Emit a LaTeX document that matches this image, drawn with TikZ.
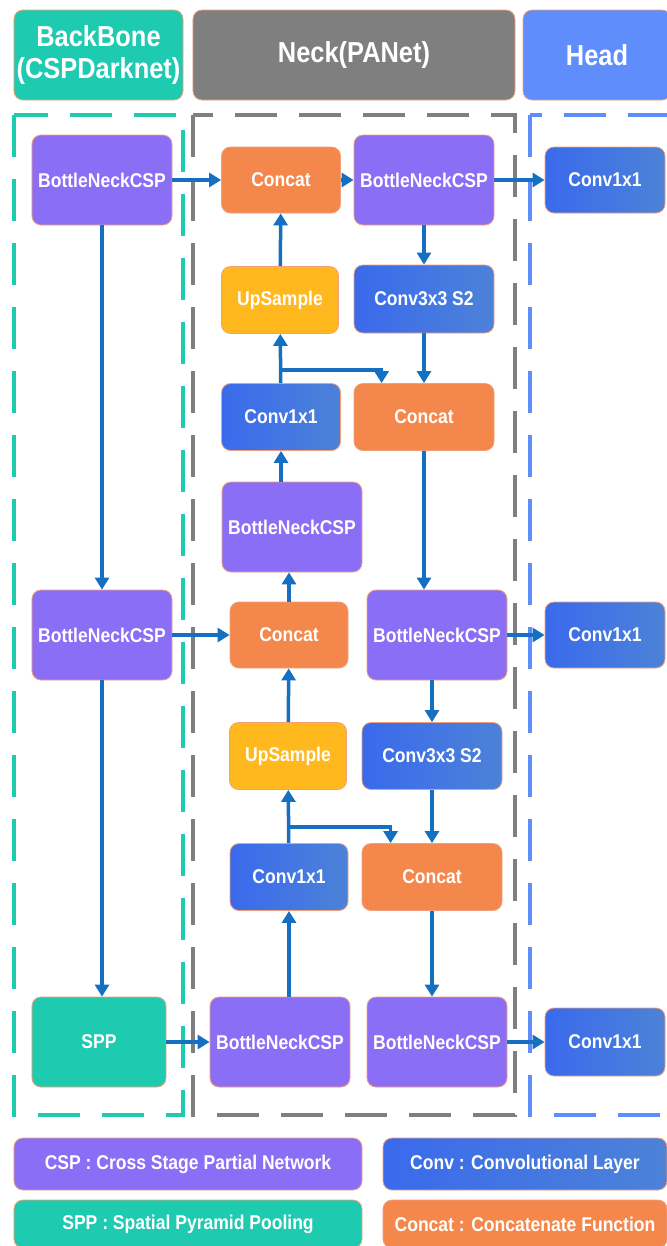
\documentclass[tikz,border=0pt]{standalone}
\usepackage{fontspec}
\setmainfont{Liberation Sans}[FakeStretch=0.88]
\usetikzlibrary{arrows.meta,positioning,calc}
\definecolor{bbteal}{RGB}{30,202,176}
\definecolor{neckgray}{RGB}{127,127,127}
\definecolor{headblue}{RGB}{95,141,252}
\definecolor{cspvio}{RGB}{139,110,246}
\definecolor{catorg}{RGB}{244,135,75}
\definecolor{upyel}{RGB}{255,184,30}
\definecolor{convL}{RGB}{58,106,236}
\definecolor{convR}{RGB}{76,130,216}
\definecolor{arrblue}{RGB}{21,112,194}
\definecolor{edgeorg}{RGB}{243,160,122}
\tikzset{
  blk/.style={rounded corners=9bp, draw=edgeorg, line width=0.8bp, text=white,
    font=\bfseries\fontsize{20}{22}\selectfont, inner sep=0pt, align=center},
  cspbox/.style={blk, fill=cspvio, minimum width=140bp, minimum height=90bp},
  catbox/.style={blk, fill=catorg, minimum width=118bp, minimum height=66bp},
  upbox/.style={blk, fill=upyel, minimum width=117bp, minimum height=67bp},
  convbox/.style={blk, left color=convL, right color=convR, minimum width=118bp, minimum height=67bp},
  hdr/.style={blk, font=\bfseries\fontsize{29}{32}\selectfont, minimum height=90bp},
  leg/.style={blk, minimum height=52bp},
  flow/.style={draw=arrblue, line width=3.5bp, -{Triangle[length=12bp,width=14bp]}},
  frame/.style={line width=4bp, dash pattern=on 42bp off 22bp},
}
\begin{document}
\begin{tikzpicture}[x=1bp, y=-1bp]
  \useasboundingbox (0,0) rectangle (667,1246);
  \clip (0,0) rectangle (667,1246);
  % headers
  \node[hdr, fill=bbteal, minimum width=169bp] (hbb) at (98.5,55) {BackBone\\(CSPDarknet)};
  \node[hdr, fill=neckgray, minimum width=322bp] (hnk) at (354,55) {Neck(PANet)};
  \node[hdr, fill=headblue, minimum width=148bp] (hhd) at (597,55) {Head};
  % dashed frames
  \draw[frame, bbteal] (14,115) rectangle (183,1115);
  \draw[frame, neckgray] (193,115) rectangle (515,1115);
  \draw[frame, headblue] (530,115) rectangle (720,1115);
  % backbone
  \node[cspbox] (bb1) at (102,180) {BottleNeckCSP};
  \node[cspbox] (bb2) at (102,635) {BottleNeckCSP};
  \node[blk, fill=bbteal, minimum width=134bp, minimum height=90bp] (spp) at (99,1042) {SPP};
  % neck, left column
  \node[catbox, minimum width=119bp] (cat1) at (281,180) {Concat};
  \node[upbox] (up1) at (280,300) {UpSample};
  \node[convbox, minimum width=119bp] (cv1) at (281,417) {Conv1x1};
  \node[cspbox] (nk1) at (292,527) {BottleNeckCSP};
  \node[catbox] (cat2) at (289,635) {Concat};
  \node[upbox] (up2) at (288,756) {UpSample};
  \node[convbox] (cv2) at (289,877) {Conv1x1};
  \node[cspbox] (nk2) at (280,1042) {BottleNeckCSP};
  % neck, right column
  \node[cspbox] (nk3) at (424,180) {BottleNeckCSP};
  \node[convbox, minimum width=140bp, minimum height=68bp] (s2a) at (424,299) {Conv3x3 S2};
  \node[catbox, minimum width=140bp, minimum height=67bp] (cat3) at (424,417) {Concat};
  \node[cspbox] (nk4) at (437,635) {BottleNeckCSP};
  \node[convbox, minimum width=140bp] (s2b) at (432,756) {Conv3x3 S2};
  \node[catbox, minimum width=140bp, minimum height=67bp] (cat4) at (432,877) {Concat};
  \node[cspbox] (nk5) at (437,1042) {BottleNeckCSP};
  % head
  \node[convbox, minimum width=120bp, minimum height=66bp] (hd1) at (605,180) {Conv1x1};
  \node[convbox, minimum width=120bp, minimum height=66bp] (hd2) at (605,635) {Conv1x1};
  \node[convbox, minimum width=120bp, minimum height=68bp] (hd3) at (605,1042) {Conv1x1};
  % legend
  \node[leg, fill=cspvio, minimum width=348bp] (lcsp) at (188,1164) {CSP : Cross Stage Partial Network};
  \node[leg, left color=convL, right color=convR, minimum width=284bp] (lconv) at (525,1164) {Conv : Convolutional Layer};
  \node[leg, fill=bbteal, minimum width=348bp, minimum height=48bp] (lspp) at (188,1224) {SPP : Spatial Pyramid Pooling};
  \node[leg, fill=catorg, minimum width=284bp, minimum height=48bp] (lcat) at (525,1224) {Concat : Concatenate Function};
  % backbone flow
  \draw[flow] (bb1.south) -- (bb2.north);
  \draw[flow] (bb2.south) -- (bb2.south |- spp.north);
  \draw[flow] (bb1) -- (cat1);
  \draw[flow] (bb2.east) -- (cat2.west);
  \draw[flow] (spp) -- (nk2);
  % top-down path
  \draw[flow] (nk2.north -| cv2) -- (cv2.south);
  \draw[flow] (cv2) -- (up2);
  \draw[flow] (up2) -- (cat2);
  \draw[flow] (cat2.north) -- (cat2.north |- nk1.south);
  \draw[flow] (nk1.north -| cv1) -- (cv1.south);
  \draw[flow] (cv1) -- (up1);
  \draw[flow] (up1) -- (cat1);
  \draw[flow] (cat1) -- (nk3);
  % lateral branches
  \coordinate (sp1) at ($(cv1.north)+(0,-13)$);
  \draw[flow] (sp1) -| ($(cat3.north west)+(28,0)$);
  \coordinate (sp2) at ($(cv2.north)+(0,-16)$);
  \draw[flow] (sp2) -| ($(cat4.north west)+(29,0)$);
  % bottom-up path
  \draw[flow] (nk3) -- (s2a);
  \draw[flow] (s2a) -- (cat3);
  \draw[flow] (cat3.south) -- (cat3.south |- nk4.north);
  \draw[flow] (nk4.south -| s2b) -- (s2b.north);
  \draw[flow] (s2b) -- (cat4);
  \draw[flow] (cat4.south) -- (cat4.south |- nk5.north);
  % to head
  \draw[flow] (nk3) -- (hd1);
  \draw[flow] (nk4) -- (hd2);
  \draw[flow] (nk5) -- (hd3);
\end{tikzpicture}
\end{document}
